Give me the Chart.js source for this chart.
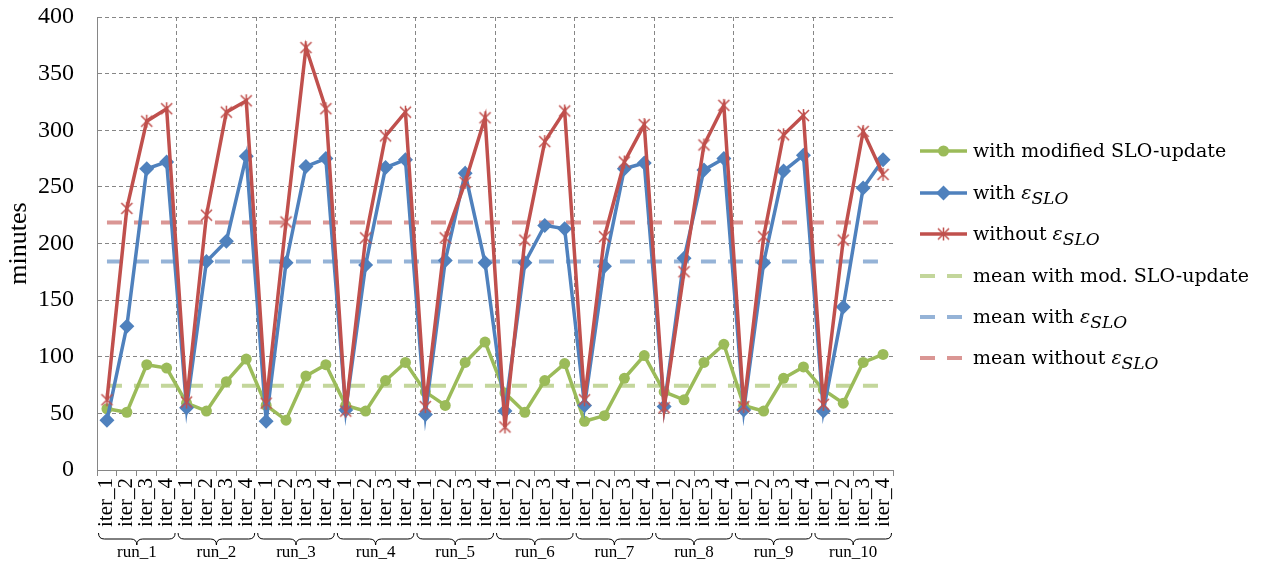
<!DOCTYPE html>
<html>
<head>
<meta charset="utf-8">
<script src="https://cdn.jsdelivr.net/npm/chart.js@4"></script>
<style>
    body { margin: 0; background: #ffffff; }
    #wrap { width: 1263px; height: 563px; }
</style>
</head>
<body>
<div id="wrap"><canvas id="slo" width="1263" height="563"></canvas></div>
<script>
// categories
const runs = ["run_1", "run_2", "run_3", "run_4", "run_5",
              "run_6", "run_7", "run_8", "run_9", "run_10"];
const iters = ["iter_1", "iter_2", "iter_3", "iter_4"];

// minutes, 4 iterations per run
const withModSLO = [
    54, 51, 93, 90,   59, 52, 78, 98,   57, 44, 83, 93,   57, 52, 79, 95,
    69, 57, 95, 113,  68, 51, 79, 94,   43, 48, 81, 101,  69, 62, 95, 111,
    57, 52, 81, 91,   71, 59, 95, 102
];
const withEps = [
    44, 127, 266, 272,  55, 184, 202, 277,  43, 183, 268, 275,  53, 181, 267, 274,
    49, 185, 262, 183,  52, 183, 216, 213,  57, 180, 266, 271,  56, 187, 265, 275,
    53, 183, 264, 278,  52, 144, 249, 274
];
const withoutEps = [
    62, 231, 308, 319,  60, 225, 316, 326,  59, 219, 373, 319,  52, 205, 295, 316,
    56, 205, 254, 311,  38, 203, 290, 317,  62, 206, 272, 305,  55, 175, 287, 322,
    56, 206, 296, 313,  58, 203, 299, 261
];

const meanModSLO = 74.5;
const meanWithEps = 184;
const meanWithoutEps = 218.5;

const yTicks = [0, 50, 100, 150, 200, 250, 300, 350, 400];

// unique labels so the mean lines can address first/last category
const labels = runs.flatMap(r => iters.map(i => r + "/" + i));
const firstLabel = labels[0];
const lastLabel = labels[labels.length - 1];

const GREEN = "#9BBB59";
const BLUE = "#4F81BD";
const RED = "#C0504D";
const GRID = "#868686";
const serif = "'Liberation Serif', 'Times New Roman', serif";
const legendFont = "'DejaVu Serif', serif";

function makeAsterisk(color, size) {
    const c = document.createElement("canvas");
    c.width = size;
    c.height = size;
    const g = c.getContext("2d");
    const m = size / 2;
    const r = size / 2 - 1;
    g.strokeStyle = color;
    g.lineWidth = 1.5;
    g.beginPath();
    g.moveTo(m - r * 0.85, m - r * 0.85);
    g.lineTo(m + r * 0.85, m + r * 0.85);
    g.moveTo(m + r * 0.85, m - r * 0.85);
    g.lineTo(m - r * 0.85, m + r * 0.85);
    g.moveTo(m, m - r);
    g.lineTo(m, m + r);
    g.stroke();
    return c;
}

const asterisk = makeAsterisk(RED, 15);

function meanLine(value) {
    return [{ x: firstLabel, y: value }, { x: lastLabel, y: value }];
}

// legend entries: text before epsilon, and whether the ε_SLO part follows
const legendItems = [
    { kind: "point", color: GREEN, marker: "circle", text: "with modified SLO-update", eps: false },
    { kind: "point", color: BLUE, marker: "diamond", text: "with ", eps: true },
    { kind: "point", color: RED, marker: "asterisk", text: "without ", eps: true },
    { kind: "dash", color: "#C3D69B", text: "mean with mod. SLO-update", eps: false },
    { kind: "dash", color: "#95B3D7", text: "mean with ", eps: true },
    { kind: "dash", color: "#DA9694", text: "mean without ", eps: true }
];

const legendPlugin = {
    id: "sideLegend",
    afterDraw(chart) {
        const ctx = chart.ctx;
        const x0 = 920, x1 = 967, tx = 973;
        const ys = [151, 193, 234, 276, 317, 358];
        const size = 19;

        legendItems.forEach((item, k) => {
            const y = ys[k];
            ctx.save();
            ctx.strokeStyle = item.color;
            if (item.kind === "dash") {
                ctx.lineWidth = 4;
                ctx.setLineDash([15, 12]);
            } else {
                ctx.lineWidth = 3.5;
            }
            ctx.beginPath();
            ctx.moveTo(x0, y);
            ctx.lineTo(x1, y);
            ctx.stroke();
            ctx.setLineDash([]);

            const mx = (x0 + x1) / 2;
            ctx.fillStyle = item.color;
            if (item.marker === "circle") {
                ctx.beginPath();
                ctx.arc(mx, y, 5.5, 0, Math.PI * 2);
                ctx.fill();
            } else if (item.marker === "diamond") {
                ctx.beginPath();
                ctx.moveTo(mx, y - 7.5);
                ctx.lineTo(mx + 7.5, y);
                ctx.lineTo(mx, y + 7.5);
                ctx.lineTo(mx - 7.5, y);
                ctx.closePath();
                ctx.fill();
            } else if (item.marker === "asterisk") {
                ctx.drawImage(asterisk, mx - 7.5, y - 7.5);
            }

            ctx.fillStyle = "#000000";
            ctx.textBaseline = "alphabetic";
            ctx.textAlign = "left";
            const base = y + 6;
            ctx.font = size + "px " + legendFont;
            ctx.fillText(item.text, tx, base);
            if (item.eps) {
                let x = tx + ctx.measureText(item.text).width;
                ctx.font = "italic " + size + "px " + legendFont;
                ctx.fillText("ε", x, base);
                x += ctx.measureText("ε").width;
                ctx.font = "italic " + (size - 2) + "px " + legendFont;
                ctx.fillText("SLO", x, base + 5);
            }
            ctx.restore();
        });
    }
};

const bracePlugin = {
    id: "runBraces",
    afterDraw(chart) {
        const ctx = chart.ctx;
        const xs = chart.scales.x;
        const half = (xs.getPixelForValue(1) - xs.getPixelForValue(0)) / 2;
        const yTop = 533, yMid = 539, yTip = 545;

        ctx.save();
        ctx.strokeStyle = "#000000";
        ctx.lineWidth = 1;
        runs.forEach((run, r) => {
            const left = xs.getPixelForValue(r * 4) - half + 1.5;
            const right = xs.getPixelForValue(r * 4 + 3) + half - 1.5;
            const c = (left + right) / 2;
            ctx.beginPath();
            ctx.moveTo(left, yTop);
            ctx.quadraticCurveTo(left, yMid, left + 6, yMid);
            ctx.lineTo(c - 6, yMid);
            ctx.quadraticCurveTo(c, yMid, c, yTip);
            ctx.quadraticCurveTo(c, yMid, c + 6, yMid);
            ctx.lineTo(right - 6, yMid);
            ctx.quadraticCurveTo(right, yMid, right, yTop);
            ctx.stroke();

            ctx.fillStyle = "#000000";
            ctx.font = "17px " + serif;
            ctx.textAlign = "center";
            ctx.textBaseline = "middle";
            ctx.fillText(run, c, 553);
        });
        ctx.restore();
    }
};

new Chart(document.getElementById("slo"), {
    type: "line",
    data: {
        labels: labels,
        datasets: [
            {
                label: "with modified SLO-update",
                data: withModSLO,
                borderColor: GREEN,
                backgroundColor: GREEN,
                borderWidth: 3.5,
                pointStyle: "circle",
                pointRadius: 5.5,
                pointBorderWidth: 0,
                order: 2
            },
            {
                label: "with εSLO",
                data: withEps,
                borderColor: BLUE,
                backgroundColor: BLUE,
                borderWidth: 3.5,
                pointStyle: "rectRot",
                pointRadius: 7.5,
                pointBorderWidth: 0,
                order: 1
            },
            {
                label: "without εSLO",
                data: withoutEps,
                borderColor: RED,
                backgroundColor: RED,
                borderWidth: 3.5,
                pointStyle: asterisk,
                order: 0
            },
            {
                label: "mean with mod. SLO-update",
                data: meanLine(meanModSLO),
                borderColor: "#C3D69B",
                borderWidth: 4,
                borderDash: [15, 12],
                pointRadius: 0,
                order: 5
            },
            {
                label: "mean with εSLO",
                data: meanLine(meanWithEps),
                borderColor: "#95B3D7",
                borderWidth: 4,
                borderDash: [15, 12],
                pointRadius: 0,
                order: 4
            },
            {
                label: "mean without εSLO",
                data: meanLine(meanWithoutEps),
                borderColor: "#DA9694",
                borderWidth: 4,
                borderDash: [15, 12],
                pointRadius: 0,
                order: 3
            }
        ]
    },
    options: {
        responsive: false,
        animation: false,
        layout: {
            padding: { top: 17, right: 370, left: 0, bottom: 0 }
        },
        plugins: {
            legend: { display: false },
            tooltip: { enabled: false }
        },
        scales: {
            x: {
                offset: true,
                afterFit: (scale) => {
                    scale.height = 93;
                    scale.paddingTop = 0;
                    scale.paddingBottom = 0;
                },
                grid: {
                    offset: true,
                    color: (c) => (c.index % 4 === 0 && c.index > 0 && c.index < 40) ? GRID : "rgba(0,0,0,0)",
                    tickColor: GRID,
                    tickLength: 6
                },
                border: { color: GRID, dash: [4, 3] },
                ticks: {
                    autoSkip: false,
                    minRotation: 90,
                    maxRotation: 90,
                    padding: 2,
                    color: "#000000",
                    font: { family: serif, size: 21 },
                    callback: function (value) {
                        return this.getLabelForValue(value).split("/")[1];
                    }
                }
            },
            y: {
                min: 0,
                max: 400,
                afterFit: (scale) => {
                    scale.width = 97;
                    scale.paddingTop = 0;
                    scale.paddingBottom = 0;
                },
                afterBuildTicks: (scale) => {
                    scale.ticks = yTicks.map(v => ({ value: v }));
                },
                grid: {
                    color: GRID,
                    drawTicks: false
                },
                border: { color: GRID, dash: [4, 3] },
                ticks: {
                    padding: 23,
                    color: "#000000",
                    font: { family: serif, size: 24 }
                },
                title: {
                    display: true,
                    text: "minutes",
                    color: "#000000",
                    font: { family: serif, size: 26 },
                    padding: { top: 4, bottom: 4 }
                }
            }
        }
    },
    plugins: [legendPlugin, bracePlugin]
});
</script>
</body>
</html>
